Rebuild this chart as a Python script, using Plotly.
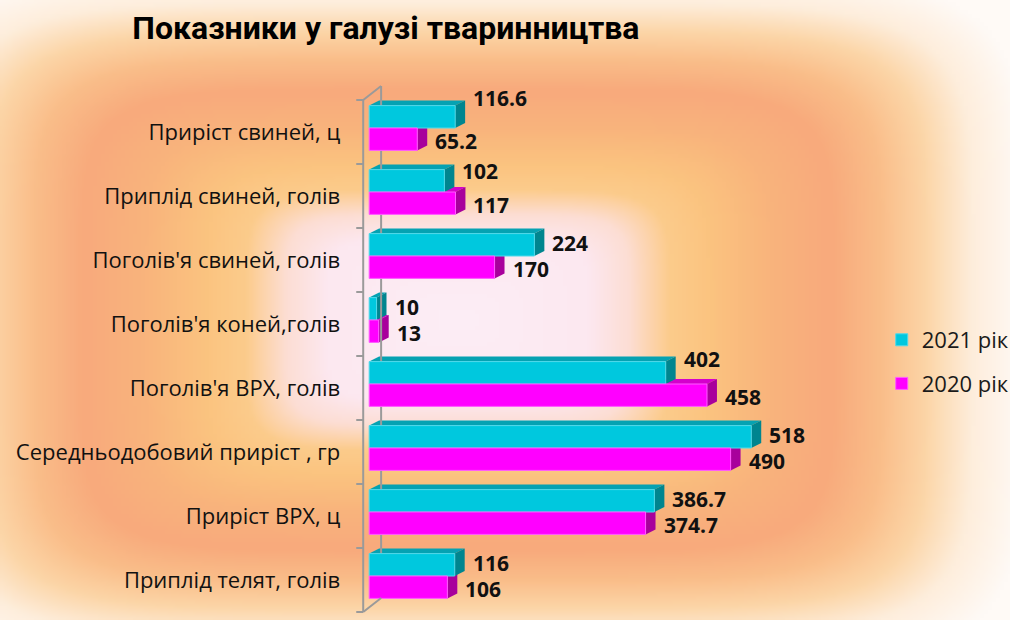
import base64
import struct
import zlib

import numpy as np
import plotly.graph_objects as go

# ---------------- data ----------------
categories = [
    "Приріст свиней, ц",
    "Приплід свиней, голів",
    "Поголів'я свиней, голів",
    "Поголів'я коней,голів",
    "Поголів'я ВРХ, голів",
    "Середньодобовий приріст , гр",
    "Приріст ВРХ, ц",
    "Приплід телят, голів",
]
values_2021 = [116.6, 102, 224, 10, 402, 518, 386.7, 116]
values_2020 = [65.2, 117, 170, 13, 458, 490, 374.7, 106]
series_names = ["2021 рік", "2020 рік"]
title_text = "Показники у галузі тваринництва"

# ---------------- style / geometry ----------------
W, H = 1015, 620
PX_PER_UNIT = 0.7413          # horizontal pixels per value unit
X0_PX = 371                   # pixel where value 0 sits
DOM_L_PX, DOM_R_PX = 355, 880
BAND_PX = 64.0
Y_TOP_PX, Y_BOT_PX = 70, 620  # y domain in pixels
FIRST_BAND_TOP_PX = 100

x_range = [(DOM_L_PX - X0_PX) / PX_PER_UNIT, (DOM_R_PX - X0_PX) / PX_PER_UNIT]
y_low = -0.5 - (FIRST_BAND_TOP_PX - Y_TOP_PX) / BAND_PX
y_high = y_low + (Y_BOT_PX - Y_TOP_PX) / BAND_PX
y_range = [y_high, y_low]  # reversed

DX = 10 / PX_PER_UNIT         # 3D depth in value units
DY = 5 / BAND_PX              # 3D depth in category units
BAR_T = 0.35                  # bar thickness (category units)
BAR_SHIFT = -4 / BAND_PX      # bars sit slightly above the band centre

front_colors = ["#00C8DE", "#FF00FF"]
top_colors = ["#05A2B2", "#D400CC"]
side_colors = ["#00858F", "#A8009C"]
edge_colors = ["#4FD9EA", "#FF5CFF"]

# vertical shifts (px) of value labels (moved to avoid overlaps)
label_yshift = [[19, 10, 2, 2, 14, 2, 2, 2], [-2, -2, -2, -2, -2, -2, -2, -2]]

FONT = "Open Sans"

# ---------------- background gradient (rectangular, from centre) ----------------
def png_uri(rgb):
    h, w, _ = rgb.shape
    raw = b"".join(b"\x00" + rgb[r].tobytes() for r in range(h))

    def chunk(tag, data):
        return (struct.pack(">I", len(data)) + tag + data
                + struct.pack(">I", zlib.crc32(tag + data) & 0xFFFFFFFF))

    png = (b"\x89PNG\r\n\x1a\n"
           + chunk(b"IHDR", struct.pack(">IIBBBBB", w, h, 8, 2, 0, 0, 0))
           + chunk(b"IDAT", zlib.compress(raw, 9))
           + chunk(b"IEND", b""))
    return "data:image/png;base64," + base64.b64encode(png).decode()


gw, gh = 254, 155
gx = (np.arange(gw) + 0.5) * W / gw
gy = (np.arange(gh) + 0.5) * H / gh
GX, GY = np.meshgrid(gx, gy)
cx, cy, hx, hy = 460, 320, 507, 310
p = 6
t = ((np.abs(GX - cx) / hx) ** p + (np.abs(GY - cy) / hy) ** p) ** (1 / p)
stops = [0.00, 0.26, 0.34, 0.42, 0.50, 0.62, 0.74, 0.84, 0.93, 1.02, 1.12]
cols = np.array([
    (253, 238, 246), (252, 232, 240), (252, 222, 212), (252, 204, 140),
    (251, 196, 128), (249, 180, 124), (248, 170, 124), (250, 190, 138),
    (252, 214, 168), (254, 238, 220), (255, 250, 246)], dtype=float)
img = np.stack([np.interp(t, stops, cols[:, k]) for k in range(3)], axis=-1)
img = np.clip(img, 0, 255).astype(np.uint8)
bg_uri = png_uri(img)

# ---------------- figure ----------------
ypos = np.arange(len(categories)) + BAR_SHIFT
series = [values_2021, values_2020]

fig = go.Figure()
for k, (name, vals) in enumerate(zip(series_names, series)):
    fig.add_trace(go.Bar(
        name=name, y=ypos, x=vals, orientation="h",
        marker=dict(color=front_colors[k], line=dict(color=edge_colors[k], width=1)),
        legendgroup=name, hoverinfo="x+name",
    ))

shapes = []
# 3D faces: magenta first, then cyan (cyan is in front / above)
for k in [1, 0]:
    for i, v in enumerate(series[k]):
        yc = ypos[i]
        top = yc - BAR_T if k == 0 else yc
        bot = yc if k == 0 else yc + BAR_T
        shapes.append(dict(
            type="path", xref="x", yref="y", layer="below",
            path=f"M0,{top} L{v},{top} L{v + DX},{top - DY} L{DX},{top - DY} Z",
            fillcolor=top_colors[k], line=dict(width=0)))
        shapes.append(dict(
            type="path", xref="x", yref="y", layer="below",
            path=f"M{v},{top} L{v + DX},{top - DY} L{v + DX},{bot - DY} L{v},{bot} Z",
            fillcolor=side_colors[k], line=dict(width=0)))

# 3D value axis wall lines
ax_col = "#9A9A9A"
fx = (365 - X0_PX) / PX_PER_UNIT
bx = (383 - X0_PX) / PX_PER_UNIT
tx = (358 - X0_PX) / PX_PER_UNIT
b_top, b_bot = -0.5, len(categories) - 0.5
back_dy = 14 / BAND_PX
line_style = dict(color=ax_col, width=2)
shapes.append(dict(type="line", xref="x", yref="y", x0=fx, x1=fx, y0=b_top, y1=b_bot, line=line_style))
shapes.append(dict(type="line", xref="x", yref="y", x0=bx, x1=bx, y0=b_top - back_dy, y1=b_bot - back_dy,
                   line=line_style, layer="below"))
shapes.append(dict(type="line", xref="x", yref="y", x0=fx, x1=bx, y0=b_top, y1=b_top - back_dy, line=line_style))
shapes.append(dict(type="line", xref="x", yref="y", x0=fx, x1=bx, y0=b_bot, y1=b_bot - back_dy, line=line_style))
for j in range(len(categories) + 1):
    yy = b_top + j
    shapes.append(dict(type="line", xref="x", yref="y", x0=tx, x1=fx, y0=yy, y1=yy, line=line_style))

# value labels
annotations = []
for k, vals in enumerate(series):
    for i, v in enumerate(vals):
        yc = ypos[i] - BAR_T / 2 if k == 0 else ypos[i] + BAR_T / 2
        annotations.append(dict(
            x=v, y=yc, xref="x", yref="y", text=f"{v:g}", showarrow=False,
            xanchor="left", yanchor="middle", xshift=16, yshift=label_yshift[k][i],
            font=dict(family=FONT, size=21, color="#111111", weight="bold"),
        ))

fig.update_layout(
    width=W, height=H,
    margin=dict(l=0, r=0, t=0, b=0),
    paper_bgcolor="white",
    plot_bgcolor="rgba(0,0,0,0)",
    barmode="group", bargap=0.3, bargroupgap=0,
    images=[dict(source=bg_uri, xref="paper", yref="paper", x=0, y=1,
                 sizex=1, sizey=1, sizing="stretch", layer="below",
                 xanchor="left", yanchor="top")],
    shapes=shapes,
    annotations=annotations,
    title=dict(text=title_text, x=133 / W, xanchor="left", y=1 - 28 / H, yanchor="middle",
               xref="paper", yref="paper",
               font=dict(family="Roboto", size=32, color="#000000", weight="bold")),
    xaxis=dict(domain=[DOM_L_PX / W, DOM_R_PX / W], range=x_range, showgrid=False,
               zeroline=False, showline=False, showticklabels=False, fixedrange=True),
    yaxis=dict(domain=[1 - Y_BOT_PX / H, 1 - Y_TOP_PX / H], range=y_range, showgrid=False,
               zeroline=False, showline=False, tickmode="array",
               tickvals=list(range(len(categories))), ticktext=categories,
               ticklabelstandoff=12,
               tickfont=dict(family=FONT, size=22, color="#111111"), fixedrange=True),
    legend=dict(x=0.873, y=1 - 362 / H, xanchor="left", yanchor="middle",
                bgcolor="rgba(0,0,0,0)", traceorder="grouped", tracegroupgap=12,
                font=dict(family=FONT, size=22, color="#1a1a1a")),
    showlegend=True,
)

fig.write_html(
    "out.html",
    config={"displayModeBar": False},
    post_script="document.body.style.margin='0';document.body.style.padding='0';"
                "document.body.style.overflow='hidden';",
)
